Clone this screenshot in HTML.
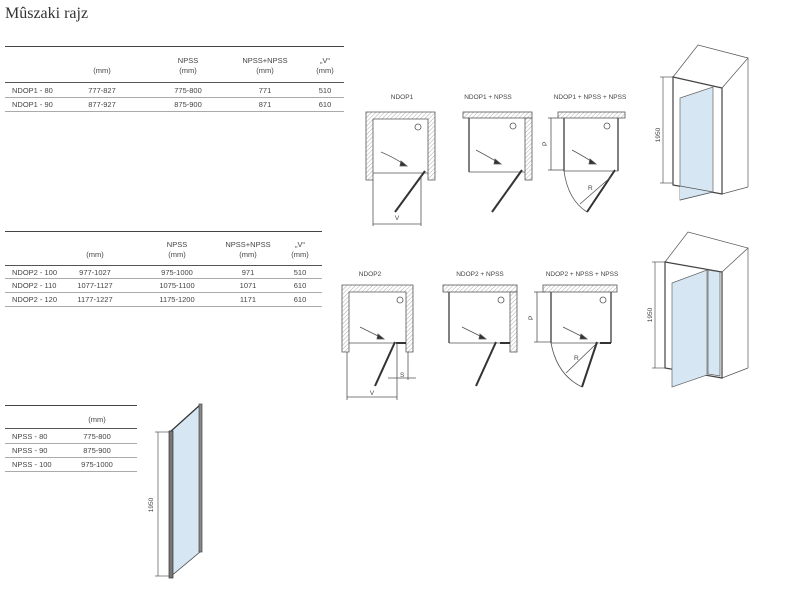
<!DOCTYPE html>
<html><head><meta charset="utf-8">
<style>
html,body{margin:0;padding:0;background:#fff;}
body{width:800px;height:596px;position:relative;overflow:hidden;font-family:"Liberation Sans",sans-serif;color:#444;}
.t{position:absolute;font-size:7.5px;white-space:nowrap;line-height:10px;}
.c{transform:translateX(-50%);text-align:center;}
.r{position:absolute;height:0;}
</style></head><body>
<div style="position:absolute;left:5px;top:5px;font-family:'Liberation Serif',serif;font-size:16px;color:#333;">Mûszaki rajz</div>

<!-- Table 1 -->
<div class="r" style="left:5px;top:46px;width:339px;border-top:1.5px solid #444"></div>
<div class="t c" style="left:188px;top:56px">NPSS<br>(mm)</div>
<div class="t c" style="left:265px;top:56px">NPSS+NPSS<br>(mm)</div>
<div class="t c" style="left:325px;top:56px">„V“<br>(mm)</div>
<div class="t c" style="left:102px;top:66px">(mm)</div>
<div class="r" style="left:5px;top:82px;width:339px;border-top:1.5px solid #555"></div>
<div class="t" style="left:12px;top:86px">NDOP1 - 80</div>
<div class="t c" style="left:102px;top:86px">777-827</div>
<div class="t c" style="left:188px;top:86px">775-800</div>
<div class="t c" style="left:265px;top:86px">771</div>
<div class="t c" style="left:325px;top:86px">510</div>
<div class="r" style="left:5px;top:97px;width:339px;border-top:1px solid #aaa"></div>
<div class="t" style="left:12px;top:100px">NDOP1 - 90</div>
<div class="t c" style="left:102px;top:100px">877-927</div>
<div class="t c" style="left:188px;top:100px">875-900</div>
<div class="t c" style="left:265px;top:100px">871</div>
<div class="t c" style="left:325px;top:100px">610</div>
<div class="r" style="left:5px;top:111px;width:339px;border-top:1px solid #aaa"></div>

<!-- Table 2 -->
<div class="r" style="left:5px;top:231px;width:317px;border-top:1.5px solid #444"></div>
<div class="t c" style="left:177px;top:240px">NPSS<br>(mm)</div>
<div class="t c" style="left:248px;top:240px">NPSS+NPSS<br>(mm)</div>
<div class="t c" style="left:300px;top:240px">„V“<br>(mm)</div>
<div class="t c" style="left:95px;top:250px">(mm)</div>
<div class="r" style="left:5px;top:265px;width:317px;border-top:1.5px solid #555"></div>
<div class="t" style="left:12px;top:268px">NDOP2 - 100</div>
<div class="t c" style="left:95px;top:268px">977-1027</div>
<div class="t c" style="left:177px;top:268px">975-1000</div>
<div class="t c" style="left:248px;top:268px">971</div>
<div class="t c" style="left:300px;top:268px">510</div>
<div class="r" style="left:5px;top:278px;width:317px;border-top:1px solid #aaa"></div>
<div class="t" style="left:12px;top:281px">NDOP2 - 110</div>
<div class="t c" style="left:95px;top:281px">1077-1127</div>
<div class="t c" style="left:177px;top:281px">1075-1100</div>
<div class="t c" style="left:248px;top:281px">1071</div>
<div class="t c" style="left:300px;top:281px">610</div>
<div class="r" style="left:5px;top:292px;width:317px;border-top:1px solid #aaa"></div>
<div class="t" style="left:12px;top:295px">NDOP2 - 120</div>
<div class="t c" style="left:95px;top:295px">1177-1227</div>
<div class="t c" style="left:177px;top:295px">1175-1200</div>
<div class="t c" style="left:248px;top:295px">1171</div>
<div class="t c" style="left:300px;top:295px">610</div>
<div class="r" style="left:5px;top:306px;width:317px;border-top:1px solid #aaa"></div>

<!-- Table 3 -->
<div class="r" style="left:5px;top:405px;width:132px;border-top:1.5px solid #444"></div>
<div class="t c" style="left:97px;top:415px">(mm)</div>
<div class="r" style="left:5px;top:428px;width:132px;border-top:1.5px solid #555"></div>
<div class="t" style="left:12px;top:432px">NPSS - 80</div>
<div class="t c" style="left:97px;top:432px">775-800</div>
<div class="r" style="left:5px;top:443px;width:132px;border-top:1px solid #aaa"></div>
<div class="t" style="left:12px;top:446px">NPSS - 90</div>
<div class="t c" style="left:97px;top:446px">875-900</div>
<div class="r" style="left:5px;top:457px;width:132px;border-top:1px solid #aaa"></div>
<div class="t" style="left:12px;top:460px">NPSS - 100</div>
<div class="t c" style="left:97px;top:460px">975-1000</div>
<div class="r" style="left:5px;top:471px;width:132px;border-top:1px solid #aaa"></div>

<svg width="800" height="596" style="position:absolute;left:0;top:0" font-family="Liberation Sans, sans-serif" font-size="6.5" fill="#444">
<defs>
<pattern id="h" width="3" height="3" patternUnits="userSpaceOnUse" patternTransform="rotate(45)">
<rect width="3" height="3" fill="#fff"/><line x1="0" y1="0" x2="0" y2="3" stroke="#999" stroke-width="0.8"/></pattern>
</defs>
<g stroke="#555" stroke-width="0.8">
<!-- NDOP1 -->
<path d="M366 112H435V180H428V119H373V180H366Z" fill="url(#h)"/>
<line x1="373" y1="173" x2="428" y2="173"/>
<line x1="425" y1="171" x2="395" y2="212" stroke="#333" stroke-width="2"/>
<circle cx="418" cy="127" r="3" fill="none"/>
<path d="M381 152Q395 158 405 165" fill="none"/>
<path d="M401 161L407 166L400 166Z" fill="#333"/>
<line x1="373" y1="180" x2="373" y2="226"/><line x1="421" y1="175" x2="421" y2="226"/>
<line x1="373" y1="224" x2="421" y2="224"/>
<!-- NDOP1+NPSS -->
<rect x="463" y="112" width="69" height="6" fill="url(#h)"/>
<rect x="525" y="118" width="7" height="62" fill="url(#h)"/>
<line x1="469" y1="118" x2="469" y2="172" stroke-width="1.5"/>
<line x1="469" y1="172" x2="525" y2="172"/>
<line x1="522" y1="170" x2="492" y2="212" stroke="#333" stroke-width="2"/>
<circle cx="513" cy="126" r="3" fill="none"/>
<path d="M476 150Q489 157 499 163" fill="none"/>
<path d="M495 159L501 164L494 164Z" fill="#333"/>
<!-- NDOP1+NPSS+NPSS -->
<rect x="558" y="112" width="67" height="6" fill="url(#h)"/>
<line x1="564" y1="118" x2="564" y2="171" stroke-width="1.5"/>
<line x1="618" y1="118" x2="618" y2="171" stroke-width="1.5"/>
<line x1="564" y1="171" x2="618" y2="171"/>
<line x1="615" y1="170" x2="587" y2="212" stroke="#333" stroke-width="2"/>
<circle cx="607" cy="126" r="3" fill="none"/>
<path d="M572 150Q585 157 594 163" fill="none"/>
<path d="M590 159L596 164L589 164Z" fill="#333"/>
<path d="M564 171Q568 200 587 212" fill="none"/>
<line x1="580" y1="204" x2="612" y2="176"/>
<line x1="551" y1="118" x2="551" y2="170"/>
<line x1="548" y1="118" x2="558" y2="118"/><line x1="548" y1="170" x2="564" y2="170"/>
<!-- NDOP2 -->
<path d="M342 285H413V352H406V292H349V352H342Z" fill="url(#h)"/>
<line x1="349" y1="343" x2="406" y2="343"/>
<line x1="396" y1="343" x2="406" y2="343" stroke="#333" stroke-width="2"/>
<line x1="395" y1="342" x2="375" y2="386" stroke="#333" stroke-width="2"/>
<circle cx="400" cy="300" r="3" fill="none"/>
<path d="M360 327Q372 333 382 338" fill="none"/>
<path d="M378 334L384 339L377 339Z" fill="#333"/>
<line x1="347" y1="352" x2="347" y2="400"/><line x1="397" y1="343" x2="397" y2="400"/>
<line x1="347" y1="397" x2="397" y2="397"/>
<line x1="388" y1="378" x2="416" y2="378"/><line x1="408" y1="352" x2="408" y2="380"/>
<!-- NDOP2+NPSS -->
<rect x="443" y="285" width="74" height="7" fill="url(#h)"/>
<rect x="510" y="292" width="7" height="60" fill="url(#h)"/>
<line x1="449" y1="292" x2="449" y2="343" stroke-width="1.5"/>
<line x1="449" y1="343" x2="510" y2="343"/>
<line x1="500" y1="343" x2="510" y2="343" stroke="#333" stroke-width="2"/>
<line x1="496" y1="342" x2="476" y2="386" stroke="#333" stroke-width="2"/>
<circle cx="501" cy="300" r="3" fill="none"/>
<path d="M462 327Q474 333 484 338" fill="none"/>
<path d="M480 334L486 339L479 339Z" fill="#333"/>
<!-- NDOP2+NPSS+NPSS -->
<rect x="543" y="285" width="74" height="7" fill="url(#h)"/>
<line x1="551" y1="292" x2="551" y2="343" stroke-width="1.5"/>
<line x1="611" y1="292" x2="611" y2="343" stroke-width="1.5"/>
<line x1="551" y1="343" x2="611" y2="343"/>
<line x1="600" y1="343" x2="611" y2="343" stroke="#333" stroke-width="2"/>
<line x1="597" y1="342" x2="582" y2="387" stroke="#333" stroke-width="2"/>
<circle cx="603" cy="300" r="3" fill="none"/>
<path d="M563 327Q575 333 585 338" fill="none"/>
<path d="M581 334L587 339L580 339Z" fill="#333"/>
<path d="M551 343Q557 375 582 387" fill="none"/>
<line x1="566" y1="373" x2="595" y2="345"/>
<line x1="537" y1="292" x2="537" y2="342"/>
<line x1="534" y1="292" x2="545" y2="292"/><line x1="534" y1="342" x2="551" y2="342"/>
</g>
<g stroke="none" fill="#444">
<text x="402" y="99" text-anchor="middle">NDOP1</text>
<text x="488" y="99" text-anchor="middle">NDOP1 + NPSS</text>
<text x="590" y="99" text-anchor="middle">NDOP1 + NPSS + NPSS</text>
<text x="397" y="220" text-anchor="middle">V</text>
<text x="588" y="190">R</text>
<text x="547" y="146" transform="rotate(-90 547 146)">P</text>
<text x="370" y="276" text-anchor="middle">NDOP2</text>
<text x="480" y="276" text-anchor="middle">NDOP2 + NPSS</text>
<text x="582" y="276" text-anchor="middle">NDOP2 + NPSS + NPSS</text>
<text x="372" y="395" text-anchor="middle">V</text>
<text x="400" y="377">S</text>
<text x="574" y="360">R</text>
<text x="533" y="320" transform="rotate(-90 533 320)">P</text>
</g>
<!-- 3D 1 -->
<g stroke="#555" stroke-width="0.7" fill="none">
<path d="M673 77L698 45L748 58L722 88"/>
<line x1="748" y1="58" x2="748" y2="187"/>
<line x1="722" y1="194" x2="748" y2="187"/>
<path d="M673 77L722 88L722 194L673 185Z" stroke="#444" stroke-width="1.2"/>
<path d="M680 98L713 87L713 192L680 200Z" fill="#d6e6f2" stroke="#666"/>
<path d="M680 186L713 192L680 200" fill="#d6e6f2"/>
<line x1="663" y1="77" x2="663" y2="183"/>
<line x1="660" y1="77" x2="673" y2="77"/><line x1="660" y1="183" x2="673" y2="183"/>
<!-- 3D 2 -->
<path d="M665 262L688 232L748 248L722 272"/>
<line x1="748" y1="248" x2="748" y2="368"/>
<line x1="722" y1="378" x2="748" y2="368"/>
<path d="M665 262L722 272L722 378L665 368Z" stroke="#444" stroke-width="1.2"/>
<path d="M708 270L720 272L720 376L708 374Z" fill="#d6e6f2"/>
<path d="M672 283L707 270L707 375L672 387Z" fill="#d6e6f2" stroke="#666"/>
<line x1="655" y1="262" x2="655" y2="368"/>
<line x1="652" y1="262" x2="665" y2="262"/><line x1="652" y1="368" x2="665" y2="368"/>
<!-- panel -->
<path d="M170 432L200 405L200 552L170 577Z" fill="#d6e6f2"/>
<path d="M170 432L200 405" stroke="#333" stroke-width="1.2"/>
<path d="M170 577L200 552" stroke="#555"/>
<rect x="169" y="431" width="4" height="147" fill="#777" stroke="#333"/>
<rect x="199" y="404" width="3" height="148" fill="#888" stroke="#444"/>
<line x1="158" y1="432" x2="158" y2="576"/>
<line x1="155" y1="432" x2="169" y2="432"/><line x1="155" y1="576" x2="169" y2="576"/>
</g>
<g stroke="none" fill="#444">
<text x="660" y="135" transform="rotate(-90 660 135)" text-anchor="middle">1950</text>
<text x="652" y="315" transform="rotate(-90 652 315)" text-anchor="middle">1950</text>
<text x="153" y="505" transform="rotate(-90 153 505)" text-anchor="middle">1950</text>
</g>
</svg>
</body></html>
